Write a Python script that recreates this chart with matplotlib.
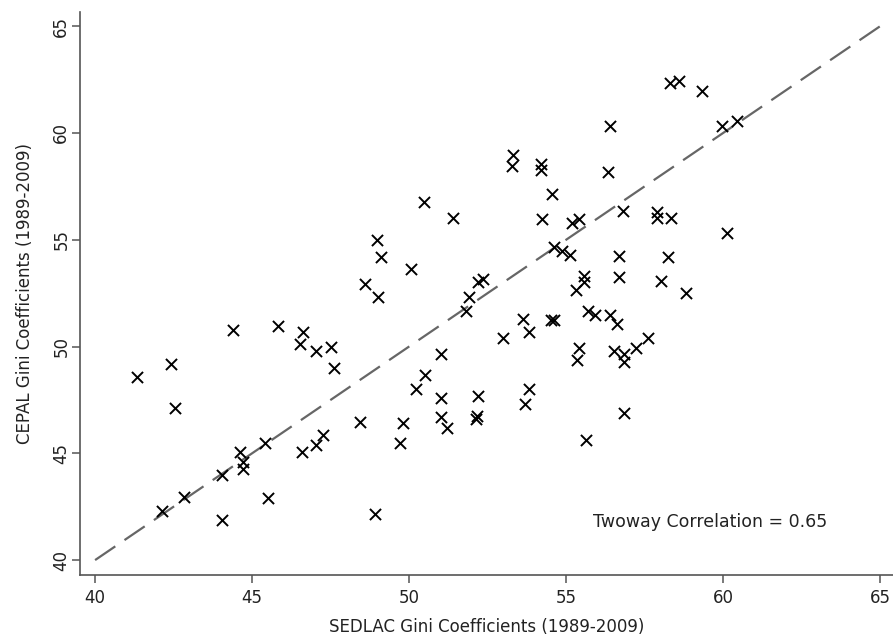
import matplotlib
matplotlib.use("Agg")
import matplotlib.pyplot as plt
import numpy as np

# SEDLAC vs CEPAL Gini coefficients
sedlac = [44.40, 45.82, 46.63, 46.51, 47.02, 47.52, 47.61, 42.41, 41.33, 42.55,
          48.44, 47.25, 47.02, 46.60, 45.41, 44.62, 44.72, 44.72, 44.03, 42.83,
          42.12, 44.03, 45.52, 48.92, 50.48, 51.41, 54.22, 55.18, 55.41, 48.99,
          49.10, 50.05, 48.60, 49.00, 54.60, 54.86, 55.13, 55.32, 52.21, 52.34,
          51.92, 51.81, 53.64, 53.83, 53.00, 54.52, 54.60, 55.40, 55.34, 51.00,
          50.51, 50.21, 51.00, 52.21, 53.83, 53.69, 51.00, 51.22, 52.15, 52.13,
          49.80, 49.71, 58.31, 58.61, 59.32, 59.96, 60.43, 56.41, 53.32, 53.27,
          54.20, 54.20, 56.32, 54.55, 56.82, 57.90, 57.90, 58.33, 60.11, 56.70,
          58.24, 55.56, 55.56, 56.70, 58.02, 58.81, 55.71, 55.92, 56.40, 56.61,
          56.51, 56.83, 56.83, 57.23, 57.62, 56.83, 55.63]
cepal = [50.77, 50.96, 50.69, 50.10, 49.78, 49.96, 49.00, 49.18, 48.55, 47.10,
         46.47, 45.85, 45.38, 45.06, 45.49, 45.07, 44.60, 44.25, 43.98, 42.96,
         42.31, 41.90, 42.92, 42.14, 56.78, 56.04, 55.95, 55.79, 55.95, 54.98,
         54.17, 53.62, 52.95, 52.33, 54.68, 54.48, 54.28, 52.67, 53.03, 53.14,
         52.33, 51.66, 51.27, 50.69, 50.40, 51.24, 51.22, 49.91, 49.35, 49.64,
         48.69, 48.01, 47.57, 47.69, 48.01, 47.29, 46.68, 46.17, 46.74, 46.63,
         46.43, 45.49, 62.35, 62.44, 61.96, 60.32, 60.55, 60.32, 58.96, 58.46,
         58.57, 58.26, 58.15, 57.12, 56.34, 56.31, 56.03, 56.03, 55.34, 54.23,
         54.17, 53.30, 53.03, 53.26, 53.08, 52.53, 51.67, 51.47, 51.47, 51.05,
         49.78, 49.67, 49.29, 49.91, 50.38, 46.90, 45.62]
ticks = [40, 45, 50, 55, 60, 65]
corr = 0.65

plt.rcParams['font.family'] = ['DejaVu Sans']
fig = plt.figure(figsize=(8.93, 6.38), dpi=100)
ax = fig.add_axes([0.0896, 0.0987, 0.9104, 0.8823])

# линия 45 градусов
ax.plot([40, 65], [40, 65], color="#666666", lw=1.6, dashes=(11, 5), zorder=1)
ax.scatter(sedlac, cepal, marker="x", s=64, color="black", linewidths=1.4, zorder=2)

ax.set_xlim(39.52, 65.41)
ax.set_ylim(39.3, 65.66)
ax.set_xticks(ticks)
ax.set_yticks(ticks)
for s in ["top", "right"]:
    ax.spines[s].set_visible(False)
for s in ["left", "bottom"]:
    ax.spines[s].set_color("#555555")
    ax.spines[s].set_linewidth(1.2)
ax.tick_params(axis="both", direction="out", length=6, width=1.1, color="#555555",
               labelsize=12, colors="#222222")
ax.tick_params(axis="x", pad=4)
ax.tick_params(axis="y", pad=1)
plt.setp(ax.get_yticklabels(), rotation=90, va="center")
ax.set_xlabel("SEDLAC Gini Coefficients (1989-2009)", fontsize=12, color="#222222", labelpad=8)
ax.set_ylabel("CEPAL Gini Coefficients (1989-2009)", fontsize=12, color="#222222", labelpad=13)

ax.text(55.85, 41.8, "Twoway Correlation = {:.2f}".format(corr), fontsize=12.5,
        color="#222222", va="center", ha="left")

fig.savefig("out.png", dpi=100)
